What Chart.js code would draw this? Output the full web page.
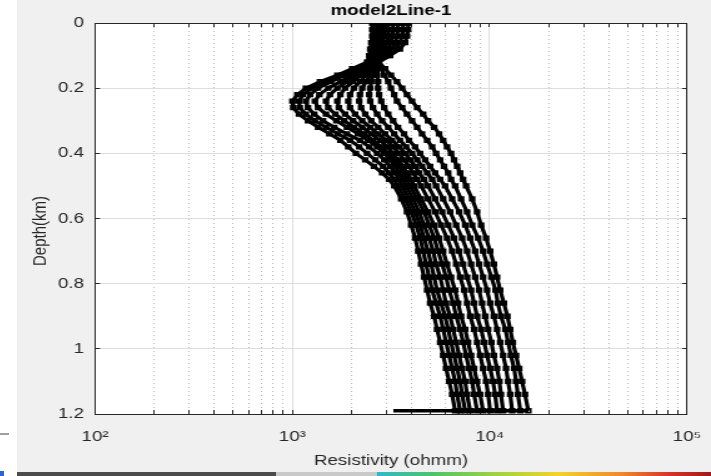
<!DOCTYPE html>
<html>
<head>
<meta charset="utf-8">
<title>model2Line-1</title>
<script src="https://cdn.jsdelivr.net/npm/chart.js"></script>
<style>
  html, body { margin: 0; padding: 0; background: #fff; }
  body { position: relative; width: 711px; height: 476px; overflow: hidden; }
  #figure { position: absolute; left: 17px; top: 0; width: 694px; height: 472px; background: #f0f0f0; overflow: hidden; }
  /* canvas is drawn 555px wide and widened to 694px */
  #depthChart { display: block; transform: scaleX(1.2505); transform-origin: 0 0; }
  #strip {
    position: absolute; left: 17px; top: 472px; width: 694px; height: 4px;
    background: linear-gradient(to right, #4b4b4b 0%, #4b4b4b 37.3%, #c9c9c9 37.3%, #c9c9c9 51.9%,
      #2fb8c9 51.9%, #4cc46a 60%, #a8d43a 70%, #f2d32b 78%, #f0892a 87%, #d8322a 94%, #a01818 100%);
  }
  #dash { position: absolute; left: 0; top: 433px; width: 9px; height: 2px; background: #a0a0a0; }
  #corner { position: absolute; left: 0; top: 471px; width: 4px; height: 5px; background: #2b63d8; }
</style>
</head>
<body>
<div id="figure"><canvas id="depthChart" width="555" height="472"></canvas></div>
<div id="strip"></div>
<div id="dash"></div>
<div id="corner"></div>
<script>
// depth of every sample (km), shared by all profiles
const depthKm = [0, 0.02, 0.04, 0.06, 0.08, 0.10, 0.12, 0.14, 0.16, 0.18, 0.20, 0.22, 0.24, 0.26, 0.28, 0.30,
  0.32, 0.34, 0.36, 0.38, 0.40, 0.42, 0.44, 0.46, 0.48, 0.50, 0.54, 0.58, 0.62, 0.66, 0.70, 0.74, 0.78, 0.82,
  0.86, 0.90, 0.94, 0.98, 1.02, 1.06, 1.10, 1.14, 1.19];

// resistivity profiles (ohm-m)
const rho01 = [2540, 2540, 2540, 2510, 2480, 2450, 2390, 2010, 1690, 1380, 1170, 1060, 1000, 1010, 1080, 1200,
  1350, 1540, 1750, 1920, 2100, 2340, 2590, 2850, 3090, 3280, 3560, 3810, 4000, 4190, 4340, 4490, 4650, 4820,
  4990, 5230, 5410, 5610, 5810, 6010, 6230, 6450, 6680];
const rho02 = [2560, 2560, 2560, 2540, 2510, 2480, 2420, 2080, 1770, 1480, 1260, 1130, 1080, 1090, 1170, 1300,
  1480, 1700, 1960, 2180, 2390, 2630, 2880, 3090, 3280, 3430, 3730, 4000, 4240, 4440, 4600, 4760, 4930, 5110,
  5350, 5610, 5810, 6010, 6230, 6450, 6680, 6840, 7080];
const rho03 = [2590, 2590, 2590, 2560, 2540, 2510, 2450, 2150, 1850, 1570, 1350, 1230, 1170, 1200, 1290, 1430,
  1630, 1890, 2200, 2450, 2690, 2920, 3130, 3320, 3470, 3600, 3900, 4190, 4440, 4650, 4870, 5050, 5230, 5410,
  5670, 5940, 6160, 6370, 6600, 6840, 7080, 7250, 7510];
const rho04 = [2660, 2660, 2660, 2630, 2590, 2540, 2480, 2260, 2010, 1750, 1520, 1370, 1300, 1350, 1480, 1670,
  1890, 2150, 2420, 2690, 2920, 3130, 3320, 3470, 3640, 3770, 4090, 4390, 4650, 4930, 5170, 5350, 5610, 5810,
  6010, 6300, 6530, 6760, 7000, 7250, 7510, 7680, 7960];
const rho05 = [2720, 2720, 2720, 2690, 2660, 2560, 2510, 2340, 2130, 1890, 1690, 1550, 1480, 1520, 1650, 1830,
  2050, 2310, 2560, 2820, 3060, 3280, 3470, 3640, 3810, 3950, 4290, 4650, 4930, 5230, 5480, 5740, 6010, 6230,
  6530, 6760, 7080, 7330, 7590, 7860, 8150, 8340, 8630];
const rho06 = [2820, 2820, 2820, 2780, 2720, 2630, 2540, 2420, 2230, 2030, 1850, 1750, 1690, 1720, 1850, 2030,
  2260, 2510, 2780, 3020, 3240, 3430, 3640, 3810, 4000, 4140, 4490, 4870, 5230, 5540, 5810, 6080, 6370, 6680,
  6920, 7160, 7510, 7770, 8050, 8340, 8630, 8940, 9260];
const rho07 = [2920, 2920, 2920, 2880, 2820, 2690, 2590, 2510, 2360, 2200, 2050, 1960, 1920, 1960, 2080, 2260,
  2480, 2720, 2990, 3240, 3470, 3680, 3900, 4090, 4290, 4490, 4870, 5290, 5670, 6080, 6450, 6760, 7080, 7420,
  7680, 7960, 8340, 8630, 8940, 9260, 9590, 9820, 10050];
const rho08 = [3060, 3060, 3060, 3020, 2920, 2750, 2630, 2560, 2480, 2360, 2260, 2200, 2180, 2230, 2340, 2510,
  2720, 2950, 3200, 3470, 3730, 3950, 4190, 4390, 4650, 4870, 5290, 5740, 6160, 6600, 7000, 7330, 7680, 8050,
  8340, 8630, 9050, 9370, 9700, 10050, 10400, 10650, 10900];
const rho09 = [3240, 3240, 3200, 3160, 3060, 2850, 2660, 2630, 2560, 2510, 2480, 2450, 2480, 2560, 2690, 2850,
  3060, 3280, 3510, 3770, 4040, 4290, 4540, 4820, 5110, 5350, 5810, 6300, 6760, 7250, 7680, 8050, 8440, 8840,
  9150, 9480, 9820, 10200, 10500, 10900, 11200, 11400, 11700];
const rho10 = [3430, 3430, 3390, 3320, 3200, 2950, 2690, 2690, 2690, 2720, 2720, 2750, 2820, 2920, 3060, 3240,
  3430, 3680, 3900, 4190, 4440, 4710, 4990, 5290, 5610, 5940, 6450, 7000, 7510, 7960, 8440, 8840, 9260, 9700,
  10050, 10500, 10900, 11300, 11700, 12100, 12400, 12700, 13000];
const rho11 = [3640, 3640, 3600, 3510, 3350, 3060, 2720, 2820, 2920, 3060, 3160, 3280, 3390, 3600, 3810, 4040,
  4290, 4540, 4820, 5110, 5350, 5610, 5870, 6160, 6370, 6680, 7160, 7680, 8150, 8740, 9260, 9700, 10200, 10700,
  11000, 11400, 12000, 12400, 12800, 13300, 13600, 13900, 14300];
const rho12 = [3860, 3860, 3810, 3730, 3510, 3130, 2750, 2950, 3160, 3390, 3600, 3810, 4040, 4290, 4600, 4870,
  5230, 5540, 5810, 6080, 6370, 6600, 6840, 7080, 7330, 7590, 8150, 8630, 9050, 9590, 10050, 10500, 10900, 11300,
  11800, 12300, 12700, 13100, 13600, 14100, 14600, 15100, 15700];

const profiles = [rho01, rho02, rho03, rho04, rho05, rho06, rho07, rho08, rho09, rho10, rho11, rho12];

// flat segment along the bottom
const baseRho = [3250, 15700];
const baseDepth = 1.19;

// axis ticks
const xTickValues = [100, 200, 300, 400, 500, 600, 700, 800, 900,
  1000, 2000, 3000, 4000, 5000, 6000, 7000, 8000, 9000,
  10000, 20000, 30000, 40000, 50000, 60000, 70000, 80000, 90000, 100000];
const xDecades = [100, 1000, 10000, 100000];
const xDecadeLabels = ['10²', '10³', '10⁴', '10⁵'];
const yTickValues = [0, 0.2, 0.4, 0.6, 0.8, 1, 1.2];
const yTickLabels = ['0', '0.2', '0.4', '0.6', '0.8', '1', '1.2'];

document.addEventListener("DOMContentLoaded", () => {
  const AXIS = "#262626";
  const GRID = "#dedede";
  const MINOR = "#b9b9b9";
  const FONT = '"Liberation Sans", Arial, sans-serif';

  Chart.defaults.font.family = FONT;
  Chart.defaults.font.size = 15;
  Chart.defaults.color = AXIS;

  const isDecade = (v) => xDecades.includes(v);
  const setXTicks = (scale) => {
    scale.ticks = xTickValues.map((v) => ({ value: v, major: isDecade(v) }));
  };
  const setYTicks = (scale) => {
    scale.ticks = yTickValues.map((v) => ({ value: v }));
  };
  // fixed axis box sizes, no extra room for edge labels
  const fixSize = (w, h) => (s) => {
    if (w !== null) s.width = w;
    if (h !== null) s.height = h;
    s.paddingLeft = 0;
    s.paddingRight = 0;
    s.paddingTop = 0;
    s.paddingBottom = 0;
  };

  // white plot box
  const plotBackground = {
    id: "plotBackground",
    beforeDraw(chart) {
      const { ctx, chartArea: a } = chart;
      ctx.save();
      ctx.fillStyle = "#fff";
      ctx.fillRect(a.left, a.top, a.width, a.height);
      ctx.restore();
    },
  };

  // y axis label
  const depthLabel = {
    id: "depthLabel",
    afterDraw(chart) {
      const ctx = chart.ctx;
      ctx.save();
      ctx.translate(18.4, 231);
      ctx.rotate(-Math.PI / 2);
      ctx.font = "15px " + FONT;
      ctx.fillStyle = AXIS;
      ctx.textAlign = "center";
      ctx.textBaseline = "middle";
      ctx.fillText("Depth(km)", 0, 0);
      ctx.restore();
    },
  };

  const profileStyle = {
    borderColor: "#000",
    borderWidth: 3.2,
    pointStyle: "rect",
    pointRadius: 2.6,
    pointBorderWidth: 1.6,
    pointBorderColor: "#000",
    pointBackgroundColor: "rgba(0,0,0,0)",
    fill: false,
    tension: 0,
  };

  const datasets = profiles.map((rho) => ({
    ...profileStyle,
    data: rho.map((r, i) => ({ x: r, y: depthKm[i] })),
  }));

  datasets.push({
    data: baseRho.map((r) => ({ x: r, y: baseDepth })),
    borderColor: "#000",
    borderWidth: 3.5,
    pointRadius: 0,
    fill: false,
  });

  const ctx = document.getElementById("depthChart");

  new Chart(ctx, {
    type: "line",
    data: { datasets },
    plugins: [plotBackground, depthLabel],
    options: {
      responsive: false,
      animation: false,
      events: [],
      layout: { padding: { left: 0, right: 19.2, top: 0, bottom: 0 } },
      plugins: {
        legend: { display: false },
        tooltip: { enabled: false },
        title: {
          display: true,
          text: "model2Line-1",
          fullSize: false,
          color: "#000",
          font: { size: 15, weight: "bold" },
          padding: { top: 2, bottom: 3 },
        },
      },
      scales: {
        x: {
          type: "logarithmic",
          position: "bottom",
          min: 100,
          max: 100000,
          afterBuildTicks: setXTicks,
          afterFit: fixSize(null, 58),
          ticks: {
            autoSkip: false,
            maxRotation: 0,
            padding: 18,
            color: AXIS,
            callback: (v) => (isDecade(v) ? xDecadeLabels[xDecades.indexOf(v)] : ""),
          },
          grid: {
            color: (c) => (c.tick && !isDecade(c.tick.value) ? MINOR : GRID),
            tickLength: -4,
            tickColor: AXIS,
          },
          border: {
            color: AXIS,
            dash: (c) => (c.tick && !isDecade(c.tick.value) ? [1, 3] : []),
          },
          title: {
            display: true,
            text: "Resistivity (ohmm)",
            color: AXIS,
            padding: { top: 0, bottom: 2 },
          },
        },
        xTop: {
          type: "logarithmic",
          position: "top",
          min: 100,
          max: 100000,
          afterBuildTicks: setXTicks,
          afterFit: fixSize(null, 0),
          ticks: { display: false, autoSkip: false },
          grid: { drawOnChartArea: false, tickLength: -4, tickColor: AXIS },
          border: { color: AXIS },
        },
        y: {
          type: "linear",
          reverse: true,
          min: 0,
          max: 1.2,
          afterBuildTicks: setYTicks,
          afterFit: fixSize(62.4, null),
          ticks: {
            padding: 12.8,
            color: AXIS,
            callback: (v) => yTickLabels[yTickValues.indexOf(v)],
          },
          grid: { color: GRID, tickLength: -4, tickColor: AXIS },
          border: { color: AXIS },
        },
        yRight: {
          type: "linear",
          position: "right",
          reverse: true,
          min: 0,
          max: 1.2,
          afterBuildTicks: setYTicks,
          afterFit: fixSize(0, null),
          ticks: { display: false },
          grid: { drawOnChartArea: false, tickLength: -4, tickColor: AXIS },
          border: { color: AXIS },
        },
      },
    },
  });
});
</script>
</body>
</html>
